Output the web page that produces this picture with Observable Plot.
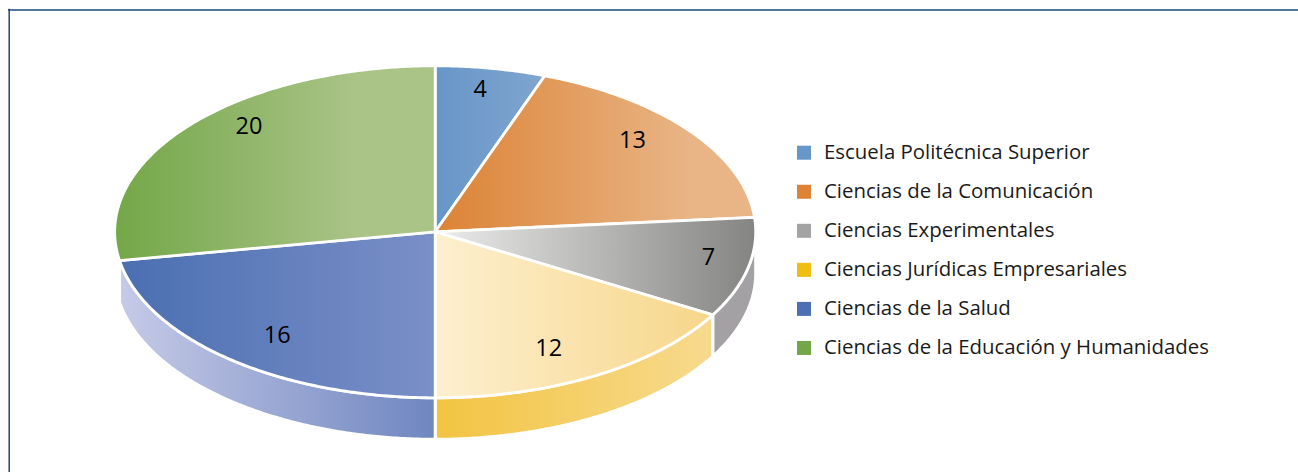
<!DOCTYPE html>
<html>
<head>
<meta charset="utf-8">
<style>html,body{margin:0;padding:0;background:#fff;overflow:hidden}</style>
<script src="https://cdn.jsdelivr.net/npm/d3@7"></script>
<script src="https://cdn.jsdelivr.net/npm/@observablehq/plot@0.6"></script>
</head>
<body>
<script>
const categories = ["Escuela Politécnica Superior","Ciencias de la Comunicación","Ciencias Experimentales","Ciencias Jurídicas Empresariales","Ciencias de la Salud","Ciencias de la Educación y Humanidades"];
const values = [4,13,7,12,16,20];
const swatchColors = ["#6796c8","#dc8335","#a3a3a3","#f0bd12","#4c70b3","#72a648"];
const topLeft  = ["#6796c8","#dc8335","#ececec","#fdefcf","#4a6fb1","#73a748"];
const topRight = ["#80a5cf","#e9b586","#848482","#f6d689","#7b8fc8","#aac387"];
const wallLeft  = [null,null,"#a3a1a3","#f2c442","#c6cae7",null];
const wallRight = [null,null,"#a3a1a3","#f7da8e","#6f86c0",null];
const labelAngleOffset = [-0.7,-4.3,-2.1,3.2,-1.6,7.5];
const labelRadius = [0.87,0.826,0.867,0.785,0.794,0.86];

const FONT = "'Open Sans', sans-serif";
const cx = 434.7, cy = 231.3, rx = 320.5, ry = 166, depth = 41.5;
const rad = a => a * Math.PI / 180;
const px = (a, r = 1) => cx + rx * r * Math.sin(rad(a));
const py = (a, r = 1) => cy - ry * r * Math.cos(rad(a));
const total = d3.sum(values);
let acc = 0;
const slices = values.map((v, i) => {
  const a0 = acc * 360 / total; acc += v; const a1 = acc * 360 / total;
  return {i, name: categories[i], value: v, a0, a1};
});
const arc = (a0, a1) => {
  const n = Math.max(2, Math.ceil(a1 - a0) * 2), pts = [];
  for (let k = 0; k <= n; k++) pts.push(a0 + (a1 - a0) * k / n);
  return pts;
};
const topPoly = s => [
  {x: cx, y: cy},
  ...arc(s.a0, s.a1).map(a => ({x: px(a), y: py(a)})),
  {x: cx, y: cy}
];
const wallPoly = s => {
  const a0 = s.a0 < 90 ? 90 : s.a0, a1 = s.a1;
  const t = arc(a0, a1).map(a => ({x: px(a), y: py(a)}));
  const b = t.slice().reverse().map(p => ({x: p.x, y: p.y + depth}));
  return [...t, ...b, t[0]];
};
const wallSlices = slices.filter(s => wallLeft[s.i]);

function defs() {
  const d = d3.create("svg:defs");
  const add = (id, l, r, mid) => {
    const g = d.append("linearGradient").attr("id", id).attr("x1", 0).attr("x2", 1).attr("y1", 0).attr("y2", 0);
    g.append("stop").attr("offset", 0).attr("stop-color", l);
    g.append("stop").attr("offset", mid).attr("stop-color", r);
  };
  slices.forEach(s => add("top" + s.i, topLeft[s.i], topRight[s.i], s.i === 5 ? 0.75 : s.i === 1 ? 0.8 : 1));
  wallSlices.forEach(s => add("wall" + s.i, wallLeft[s.i], wallRight[s.i], 1));
  return d.node();
}

const rowY = i => 152.7 + i * 39.05;
const legendRows = categories.map((name, i) => ({name, i}));

const chart = Plot.plot({
  width: 1298, height: 472,
  marginTop: 0, marginRight: 0, marginBottom: 0, marginLeft: 0,
  x: {type: "linear", domain: [0, 1298], range: [0, 1298], axis: null},
  y: {type: "linear", domain: [0, 472], range: [0, 472], axis: null},
  style: {background: "#fff", fontFamily: FONT},
  marks: [
    defs,
    Plot.ruleY([9.5], {x1: 8, x2: 1298, stroke: "#1c4a78", strokeWidth: 1.5}),
    Plot.ruleX([8.7], {y1: 8.8, y2: 472, stroke: "#1c4a78", strokeWidth: 1.5}),
    ...wallSlices.map(s => Plot.line(wallPoly(s), {x: "x", y: "y", fill: `url(#wall${s.i})`, stroke: "white", strokeWidth: 3})),
    ...slices.map(s => Plot.line(topPoly(s), {x: "x", y: "y", fill: `url(#top${s.i})`, stroke: "white", strokeWidth: 2.8})),
    Plot.text(slices, {
      x: s => px((s.a0 + s.a1) / 2 + labelAngleOffset[s.i], labelRadius[s.i]),
      y: s => py((s.a0 + s.a1) / 2 + labelAngleOffset[s.i], labelRadius[s.i]),
      text: s => String(s.value), fontSize: 23.5, fill: "#000", textAnchor: "middle", lineAnchor: "middle"
    }),
    Plot.rect(legendRows, {
      x1: () => 797, x2: () => 811,
      y1: d => rowY(d.i) - 7, y2: d => rowY(d.i) + 7,
      fill: d => swatchColors[d.i]
    }),
    Plot.text(legendRows, {
      x: () => 823.5, y: d => rowY(d.i) - 0.5, text: "name",
      fontSize: 20.4, fill: "#1a1a1a", textAnchor: "start", lineAnchor: "middle"
    })
  ]
});
document.body.appendChild(chart);
</script>
</body>
</html>
